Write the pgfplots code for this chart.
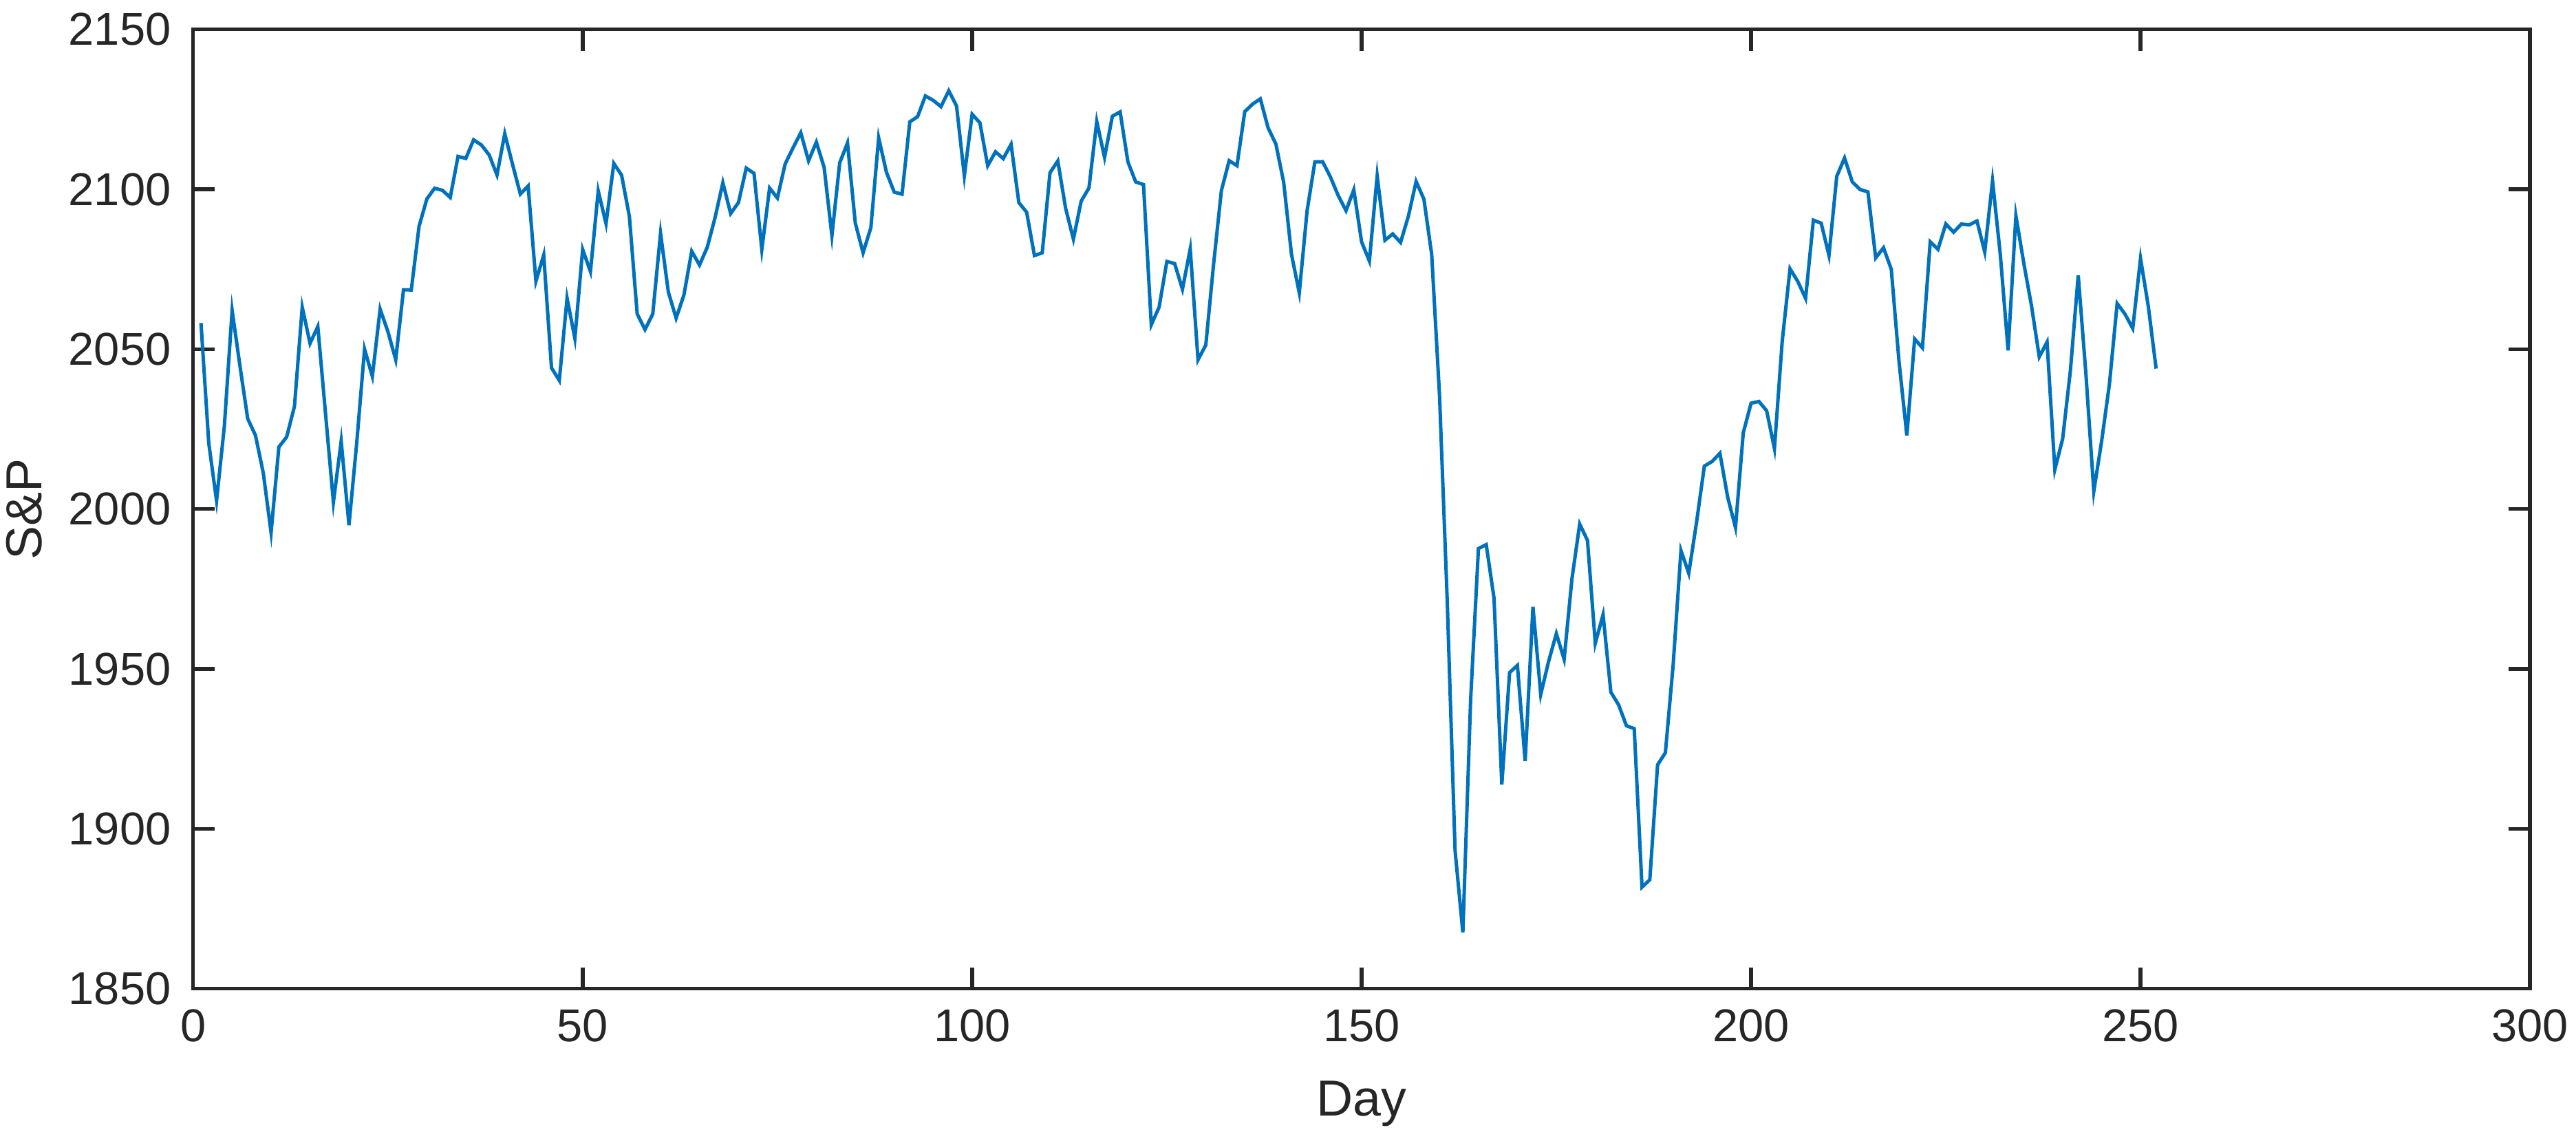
\documentclass[border=0pt]{standalone}
\usepackage{pgfplots}
\pgfplotsset{compat=1.18}
\usepackage{fontspec}
\setmainfont{Liberation Sans}
\definecolor{mlblue}{HTML}{0072BD}
\definecolor{mlgray}{HTML}{262626}
\begin{document}
\begin{tikzpicture}
\begin{axis}[
  scale only axis,
  width=508pt, height=208.5pt,
  xmin=0, xmax=300, ymin=1850, ymax=2150,
  xtick={0,50,100,150,200,250,300},
  ytick={1850,1900,1950,2000,2050,2100,2150},
  tick align=inside,
  major tick length=4.6pt,
  minor tick num=0,
  axis line style={mlgray, line width=0.8pt},
  every tick/.style={mlgray, line width=0.8pt},
  tick label style={font=\fontsize{10}{12}\selectfont, text=mlgray},
  xticklabel style={yshift=-1pt},
  yticklabel style={xshift=-1.3pt},
  /pgf/number format/assume math mode=true,
  /pgf/number format/1000 sep={},
  xlabel={Day},
  ylabel={S\&P},
  label style={font=\fontsize{11}{13}\selectfont, text=mlgray},
  xlabel style={at={(axis description cs:0.5,-0.12)}, anchor=center},
  ylabel style={at={(axis description cs:-0.0724,0.5)}, anchor=center, rotate=0},
]
\addplot[mlblue, line width=0.75pt, mark=none] coordinates {
(1,2058.20) (2,2020.58) (3,2002.61) (4,2025.90) (5,2062.14) (6,2044.81) (7,2028.26) (8,2023.03) (9,2011.27) (10,1992.67)
(11,2019.42) (12,2022.55) (13,2032.12) (14,2063.15) (15,2051.82) (16,2057.09) (17,2029.55) (18,2002.16) (19,2021.25) (20,1994.99)
(21,2020.85) (22,2050.03) (23,2041.51) (24,2062.52) (25,2055.47) (26,2046.74) (27,2068.59) (28,2068.53) (29,2088.48) (30,2096.99)
(31,2100.34) (32,2099.68) (33,2097.45) (34,2110.30) (35,2109.66) (36,2115.48) (37,2113.86) (38,2110.74) (39,2104.50)
(40,2117.39) (41,2107.78) (42,2098.53) (43,2101.04) (44,2071.26) (45,2079.43) (46,2044.16) (47,2040.24) (48,2065.95) (49,2053.40)
(50,2081.19) (51,2074.28) (52,2099.50) (53,2089.27) (54,2108.10) (55,2104.42) (56,2091.50) (57,2061.05) (58,2056.15) (59,2061.02)
(60,2086.24) (61,2067.89)
(62,2059.69) (63,2066.96) (64,2080.62) (65,2076.33) (66,2081.90) (67,2091.18) (68,2102.06) (69,2092.43) (70,2095.84)
(71,2106.63) (72,2104.99) (73,2081.18) (74,2100.40) (75,2097.29) (76,2107.96) (77,2112.93) (78,2117.69) (79,2108.92) (80,2114.76)
(81,2106.85) (82,2085.51)
(83,2108.29) (84,2114.49) (85,2089.46) (86,2080.15) (87,2088.00) (88,2116.10) (89,2105.33) (90,2099.12)
(91,2098.48) (92,2121.10) (93,2122.73) (94,2129.20) (95,2127.83) (96,2125.85) (97,2130.82) (98,2126.06) (99,2104.20) (100,2123.48)
(101,2120.79) (102,2107.39)
(103,2111.73) (104,2109.60) (105,2114.07) (106,2095.84) (107,2092.83) (108,2079.28) (109,2080.15) (110,2105.20)
(111,2108.86) (112,2094.11) (113,2084.43) (114,2096.29) (115,2100.44) (116,2121.24) (117,2109.99) (118,2122.85) (119,2124.20) (120,2108.58)
(121,2102.31) (122,2101.49) (123,2057.64) (124,2063.11)
(125,2077.42) (126,2076.78) (127,2068.76) (128,2081.34) (129,2046.68) (130,2051.31)
(131,2076.62) (132,2099.60) (133,2108.95) (134,2107.40) (135,2124.29) (136,2126.64) (137,2128.28) (138,2119.21) (139,2114.15) (140,2102.15)
(141,2079.65) (142,2067.64) (143,2093.25) (144,2108.57) (145,2108.63) (146,2103.84)
(147,2098.04) (148,2093.32) (149,2099.84) (150,2083.56)
(151,2077.57) (152,2104.18) (153,2084.07) (154,2086.05) (155,2083.39) (156,2091.54) (157,2102.44) (158,2096.92) (159,2079.61) (160,2035.73)
(161,1970.89) (162,1893.21) (163,1867.61) (164,1940.51) (165,1987.66) (166,1988.87) (167,1972.18)
(168,1913.85) (169,1948.86) (170,1951.13)
(171,1921.22) (172,1969.41) (173,1942.04) (174,1952.29) (175,1961.05) (176,1953.03) (177,1978.09) (178,1995.31) (179,1990.20) (180,1958.03)
(181,1966.97) (182,1942.74) (183,1938.76) (184,1932.24) (185,1931.34) (186,1881.77) (187,1884.09) (188,1920.03)
(189,1923.82) (190,1951.36)
(191,1987.05) (192,1979.92) (193,1995.83) (194,2013.43) (195,2014.89) (196,2017.46) (197,2003.69) (198,1994.24) (199,2023.86) (200,2033.11)
(201,2033.66) (202,2030.77) (203,2018.94) (204,2052.51) (205,2075.15) (206,2071.18) (207,2065.89) (208,2090.35) (209,2089.41) (210,2079.36)
(211,2104.05) (212,2109.79) (213,2102.31) (214,2099.93) (215,2099.20) (216,2078.58) (217,2081.72) (218,2075.00) (219,2045.97) (220,2023.04)
(221,2053.19) (222,2050.44) (223,2083.58) (224,2081.24) (225,2089.17) (226,2086.59) (227,2089.14) (228,2088.87) (229,2090.11) (230,2080.41)
(231,2102.63) (232,2079.51) (233,2049.62) (234,2091.69) (235,2077.07) (236,2063.59) (237,2047.62) (238,2052.23) (239,2012.37) (240,2021.94)
(241,2043.41) (242,2073.07) (243,2041.89) (244,2005.55) (245,2021.15) (246,2038.97) (247,2064.29) (248,2060.99) (249,2056.50) (250,2078.36)
(251,2063.36) (252,2043.94)
};
\end{axis}
\pgfresetboundingbox
\path (-42pt,-33pt) rectangle (518pt,214.9pt);
\end{tikzpicture}
\end{document}
